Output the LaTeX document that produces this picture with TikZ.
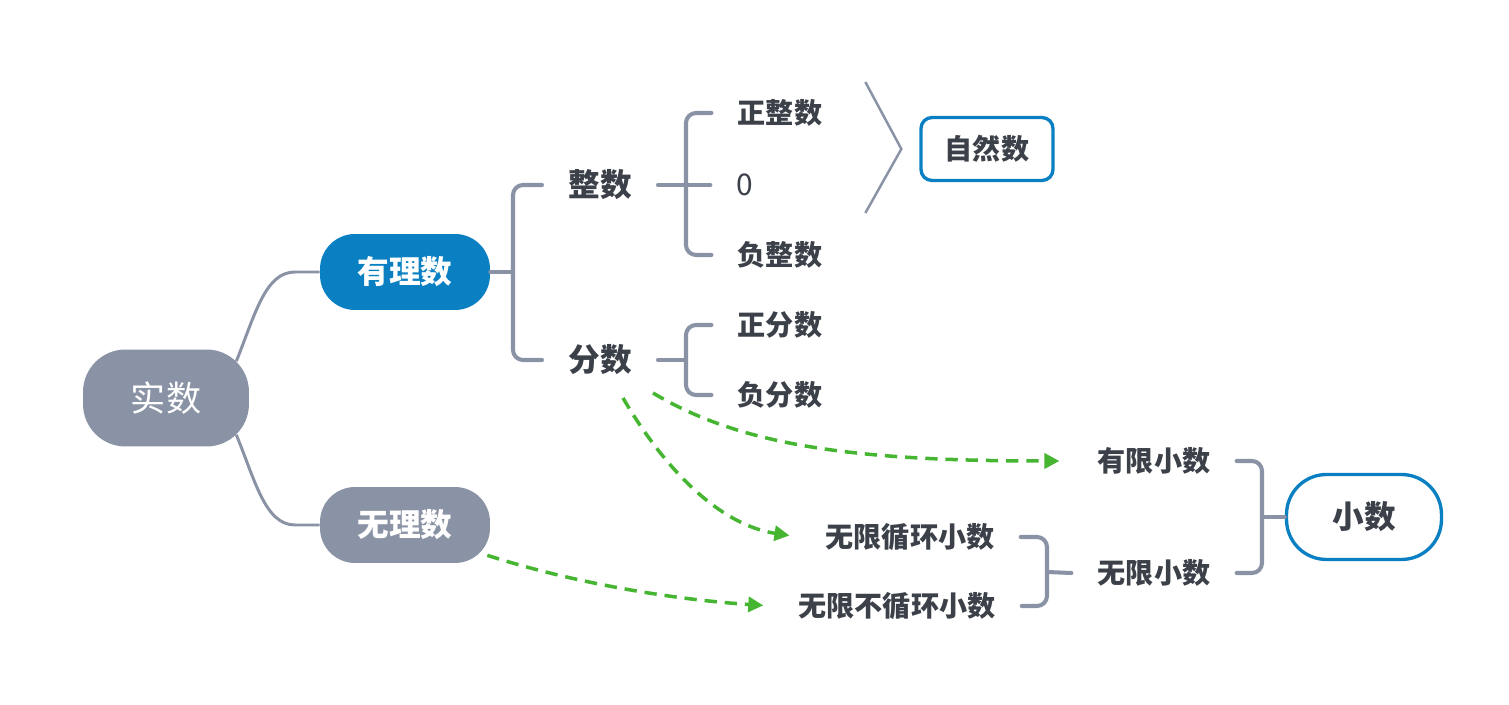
\documentclass[tikz,border=0pt]{standalone}
\usepackage{fontspec}
\setmainfont{Noto Sans CJK SC}
\usetikzlibrary{arrows.meta,calc}
\definecolor{nodegray}{HTML}{8A93A5}
\definecolor{nodeblue}{HTML}{0A80C2}
\definecolor{textdark}{HTML}{3B4049}
\definecolor{dashgreen}{HTML}{46B532}

\begin{document}
\begin{tikzpicture}
	[x=0.02cm, y=-0.02cm,
	every node/.style={text=textdark, inner ysep=2pt},
	lbl/.style={font=\fontsize{16}{18}\selectfont\bfseries, inner xsep=0.52cm},
	lblbig/.style={font=\fontsize{18}{20}\selectfont\bfseries, inner xsep=0.52cm},
	topic/.style={rounded corners=0.7cm, minimum width=3.4cm, minimum height=1.52cm, text=white, font=\fontsize{18}{20}\selectfont\bfseries},
	brk/.style={draw=nodegray, line width=2.3pt, rounded corners=0.2cm, line cap=round},
	link/.style={draw=nodegray, line width=1.7pt},
	hint/.style={draw=dashgreen, line width=2pt, dash pattern=on 7pt off 4.5pt, -{Triangle[length=0.3cm,width=0.3cm]}}]
	\useasboundingbox (0,0) rectangle (1509,705);
	\node (shishu) [fill=nodegray, rounded corners=0.85cm, minimum width=3.32cm, minimum height=1.94cm, text=white, font=\fontsize{20}{24}\selectfont] at (166,398) {实数};
	\node (youli) [topic, fill=nodeblue] at (405,272) {有理数};
	\node (wuli) [topic, fill=nodegray] at (405,525) {无理数};
	\node (zhengshu) [lblbig] at (600,185) {整数};
	\node (fenshu) [lblbig] at (600,360) {分数};
	\node (zhengz) [lbl] at (780,113) {正整数};
	\node (ling) [lbl, font=\fontsize{17}{18}\selectfont] at (745,185) {0};
	\node (fuz) [lbl] at (780,255) {负整数};
	\node (zhengfen) [lbl] at (780,325) {正分数};
	\node (fufen) [lbl] at (780,395) {负分数};
	\node (zirans) [lbl, inner xsep=0pt, draw=nodeblue, line width=1.9pt, rounded corners=0.22cm, minimum width=2.64cm, minimum height=1.26cm] at (987,149) {自然数};
	\node (youxian) [lbl] at (1154,461) {有限小数};
	\node (wuxian) [lbl] at (1154,573) {无限小数};
	\node (xunhuan) [lbl] at (910,537) {无限循环小数};
	\node (buxunhuan) [lbl] at (897,606) {无限不循环小数};
	\node (xiaoshu) [draw=nodeblue, line width=1.9pt, rounded corners=0.8cm, minimum width=3.1cm, minimum height=1.7cm, font=\fontsize{18}{20}\selectfont\bfseries] at (1364,517) {小数};
	\coordinate (b1) at (513,272);
	\coordinate (b2) at (686,185);
	\coordinate (b3) at (686,360);
	\coordinate (b4) at (1047,572);
	\coordinate (b5) at (1262,517);
	\draw [link] ($(shishu.north east)+(-13,12)$) .. controls (255,315) and (265,272) .. (295,272) -- (youli.west);
	\draw [link] ($(shishu.south east)+(-13,-12)$) .. controls (255,480) and (265,525) .. (295,525) -- (wuli.west);
	\draw [brk] (youli.east) -- (b1);
	\draw [brk] (zhengshu.west) -| (b1) |- (fenshu.west);
	\draw [brk] (zhengshu.east) -- (ling.west);
	\draw [brk] (zhengz.west) -| (b2) |- (fuz.west);
	\draw [brk] (fenshu.east) -- (b3);
	\draw [brk] (zhengfen.west) -| (b3) |- (fufen.west);
	\draw [brk] (xunhuan.east) -| (b4) |- (buxunhuan.east);
	\draw [brk] (b4) -- (wuxian.west);
	\draw [brk] (youxian.east) -| (b5) |- (wuxian.east);
	\draw [brk] (b5) -- (xiaoshu.west);
	\draw [link, line width=1.4pt] ($(zirans.west)+(-54,-67)$) -- ($(zirans.west)+(-18,0)$) -- ($(zirans.west)+(-54,64)$);
	\draw [hint, shorten >=0.24cm] ($(fenshu)+(53,33)$) .. controls (740,445) and (850,461) .. (youxian.west);
	\draw [hint, shorten >=0.2cm] ($(fenshu)+(23,38)$) .. controls (665,470) and (720,525) .. (xunhuan.west);
	\draw [hint, shorten >=0.18cm] ($(wuli.south east)+(-3,-8)$) .. controls (580,585) and (680,600) .. (buxunhuan.west);
\end{tikzpicture}
\end{document}
